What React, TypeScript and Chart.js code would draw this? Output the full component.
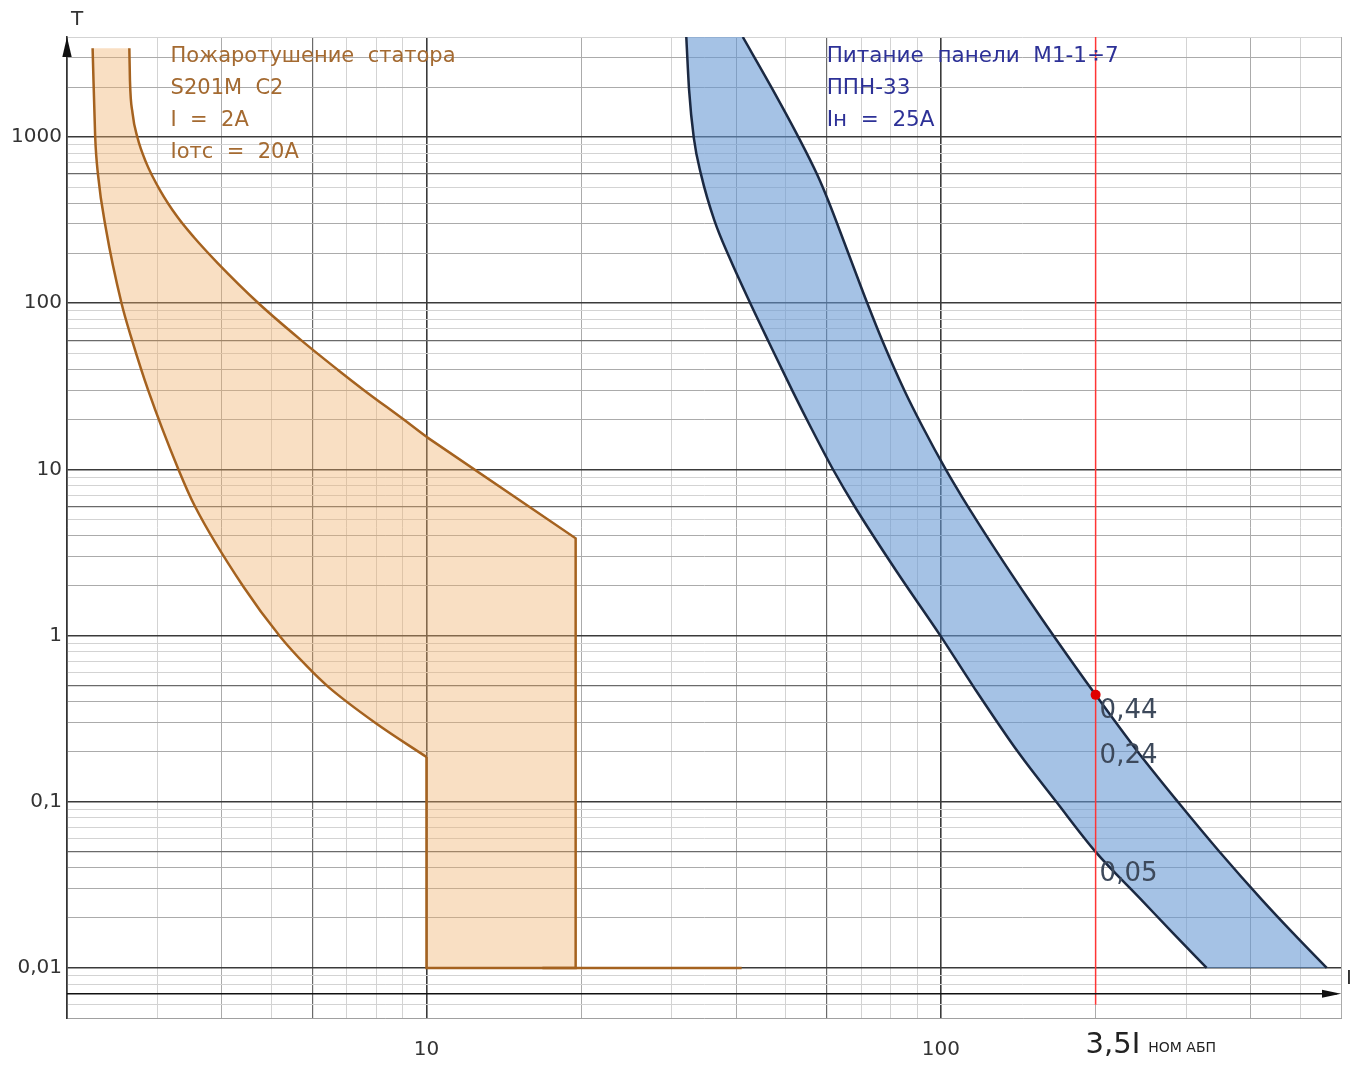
import React, { useEffect, useRef } from 'react';
import { Chart, registerables } from 'chart.js';

Chart.register(...registerables);

const W = 1358;
const H = 1066;
const FONT = '"DejaVu Sans", "Noto Sans", sans-serif';

// ---------- axes ----------
const xRange = [2, 600];
const yRange = [0.005, 4000];

const xTickValues = [2, 3, 4, 5, 6, 7, 8, 9, 10, 20, 30, 40, 50, 60, 70, 80, 90, 100, 200, 300, 400, 500, 600];
const yTickValues = [
  0.005, 0.006, 0.007, 0.008, 0.009,
  0.01, 0.02, 0.03, 0.04, 0.05, 0.06, 0.07, 0.08, 0.09,
  0.1, 0.2, 0.3, 0.4, 0.5, 0.6, 0.7, 0.8, 0.9,
  1, 2, 3, 4, 5, 6, 7, 8, 9,
  10, 20, 30, 40, 50, 60, 70, 80, 90,
  100, 200, 300, 400, 500, 600, 700, 800, 900,
  1000, 2000, 3000, 4000,
];
const xLabelValues = [10, 100];
const xLabelTexts = ['10', '100'];
const yLabelValues = [1000, 100, 10, 1, 0.1, 0.01];
const yLabelTexts = ['1000', '100', '10', '1', '0,1', '0,01'];
const yAccentLines = [600, 60, 6, 0.5, 0.05];
const xAccentLines = [6, 60];

// ---------- S201M C2 (orange) ----------
const orangeLeftI = [2.243, 2.269, 2.297, 2.383, 2.553, 2.676, 2.876, 3.294, 3.548, 4.40, 5.196, 5.866, 6.452, 7.959, 10];
const orangeLeftT = [3420, 1000, 599, 275.7, 100, 60, 30, 10, 5.98, 1.98, 0.985, 0.65, 0.49, 0.298, 0.186];
const orangeRightI = [2.644, 2.651, 2.682, 2.740, 2.853, 3.032, 3.28, 3.527, 3.926, 4.714, 5.703, 6.728, 7.558, 9.06, 10];
const orangeRightT = [3420, 2203, 1394, 1000, 697, 479.8, 330, 250.3, 174.5, 100, 60, 39.7, 30, 19.8, 15.7];
const orangeStepI = [10, 10, 19.5, 19.5, 10];
const orangeStepT = [0.186, 0.01, 0.01, 3.85, 15.7];
const orangeCutoffI = [16.8, 41];
const orangeCutoffT = [0.01, 0.01];

// ---------- ППН-33 (blue) ----------
const blueLeftI = [32.0, 32.4, 33.1, 34.2, 36.3, 38.86, 42.68, 46.29, 51.5, 55.97, 61.65, 68.3, 82.2, 99.8, 115.9, 141.7, 168.0, 200, 245.5, 282.8, 328.8];
const blueLeftT = [4000, 1931, 986, 592, 314, 187, 99.0, 58.5, 29.6, 17.75, 10.06, 5.86, 2.414, 1.0, 0.49, 0.197, 0.0993, 0.05, 0.0257, 0.0162, 0.01];
const blueRightI = [41.21, 46.71, 52.87, 57.55, 60.35, 66.02, 71.94, 77.09, 85.06, 92.22, 102.1, 110.0, 127.9, 148.4, 165.8, 200, 241.7, 289.5, 348.9, 421.2, 484.1, 562.9];
const blueRightT = [4000, 2027, 1000, 590.8, 417.8, 202.1, 100.3, 58.84, 29.63, 17.99, 10.06, 6.82, 3.27, 1.637, 0.995, 0.44, 0.1994, 0.0993, 0.0497, 0.0257, 0.0162, 0.01];

// ---------- markers ----------
const markerI = [200, 200];
const markerLineT = [4000, 0.006];
const markerDotI = [200];
const markerDotT = [0.44];
const valueLabelTexts = ['0,44', '0,24', '0,05'];
const valueLabelT = [0.352, 0.189, 0.0365];
const xArrowT = 0.007;

// ---------- text blocks ----------
const brownLines = ['Пожаротушение  статора', 'S201M  C2', 'I  =  2A', 'Iотс  =  20A'];
const blueLines = ['Питание  панели  М1-1÷7', 'ППН-33', 'Iн  =  25А'];
const brownAnchor = { i: 3.18, t: 3070 };
const blueAnchor = { i: 60, t: 3070 };

const ORANGE_STROKE = '#a5621f';
const ORANGE_FILL = 'rgba(240,176,106,0.4)';
const ORANGE_TEXT = '#a46a31';
const BLUE_STROKE = '#1b2942';
const BLUE_FILL = 'rgba(100,150,210,0.58)';
const BLUE_TEXT = '#2d3197';
const RED = '#ff3535';

const pts = (xs: number[], ys: number[]) => xs.map((x, i) => ({ x, y: ys[i] }));
const near = (a: number, b: number) => Math.abs(a / b - 1) < 1e-6;
const mant = (v: number) => {
  const e = Math.floor(Math.log10(v) + 1e-9);
  return Math.round(v / Math.pow(10, e));
};

type Style = { c: string; w: number };
const DARK: Style = { c: '#3a3a3a', w: 1.6 };
const ACCENT: Style = { c: '#6a6a6a', w: 1.2 };
const MED: Style = { c: '#ababab', w: 1 };
const LIGHT: Style = { c: '#d3d3d3', w: 1 };

function yStyle(v: number): Style {
  if (near(v, yRange[1]) || near(v, yRange[0])) return LIGHT;
  const m = mant(v);
  if (m === 1) return DARK;
  if (yAccentLines.some((a) => near(a, v))) return ACCENT;
  if (m === 2 || m === 3 || m === 4) return MED;
  return LIGHT;
}
function xStyle(v: number): Style {
  if (near(v, xRange[1])) return MED;
  const m = mant(v);
  if (m === 1) return DARK;
  if (xAccentLines.some((a) => near(a, v))) return ACCENT;
  if (m === 2 || m === 4) return MED;
  return LIGHT;
}

const IDX = { dot: 0, red: 1, bL: 2, bR: 3, oL: 4, oR: 5, oS: 6, oC: 7 };

const bandPlugin = {
  id: 'bands',
  beforeDatasetsDraw(chart: any) {
    const ctx = chart.ctx as CanvasRenderingContext2D;
    const area = chart.chartArea;
    const trace = (parts: { i: number; rev: boolean }[], color: string) => {
      ctx.save();
      ctx.beginPath();
      ctx.rect(area.left, area.top, area.right - area.left, area.bottom - area.top);
      ctx.clip();
      ctx.beginPath();
      let first = true;
      for (const part of parts) {
        const meta = chart.getDatasetMeta(part.i);
        if (meta.dataset && meta.dataset.updateControlPoints) meta.dataset.updateControlPoints(area, 'x');
        const curved = meta.dataset?.options?.cubicInterpolationMode === 'monotone' || (meta.dataset?.options?.tension || 0) > 0;
        const list = part.rev ? [...meta.data].reverse() : meta.data;
        list.forEach((p: any, k: number) => {
          if (k === 0) {
            if (first) ctx.moveTo(p.x, p.y);
            else ctx.lineTo(p.x, p.y);
            first = false;
            return;
          }
          const prev = list[k - 1];
          if (curved && prev.cp2x !== undefined && p.cp1x !== undefined) {
            if (!part.rev) ctx.bezierCurveTo(prev.cp2x, prev.cp2y, p.cp1x, p.cp1y, p.x, p.y);
            else ctx.bezierCurveTo(prev.cp1x, prev.cp1y, p.cp2x, p.cp2y, p.x, p.y);
          } else ctx.lineTo(p.x, p.y);
        });
      }
      ctx.closePath();
      ctx.fillStyle = color;
      ctx.fill();
      ctx.restore();
    };
    trace([{ i: IDX.oL, rev: false }, { i: IDX.oS, rev: false }, { i: IDX.oR, rev: true }], ORANGE_FILL);
    trace([{ i: IDX.bL, rev: false }, { i: IDX.bR, rev: true }], BLUE_FILL);
  },
  afterDatasetsDraw(chart: any) {
    const ctx = chart.ctx as CanvasRenderingContext2D;
    const xs = chart.scales.x;
    const ys = chart.scales.y;
    const px = (v: number) => xs.getPixelForValue(v);
    const py = (v: number) => ys.getPixelForValue(v);
    ctx.save();

    // text blocks
    ctx.textAlign = 'left';
    ctx.textBaseline = 'middle';
    ctx.font = `21px ${FONT}`;
    ctx.fillStyle = ORANGE_TEXT;
    brownLines.forEach((s, k) => ctx.fillText(s, px(brownAnchor.i), py(brownAnchor.t) + k * 32));
    ctx.font = `21.5px ${FONT}`;
    ctx.fillStyle = BLUE_TEXT;
    blueLines.forEach((s, k) => ctx.fillText(s, px(blueAnchor.i), py(blueAnchor.t) + k * 32));

    // value labels
    ctx.font = `26px ${FONT}`;
    ctx.fillStyle = '#3d495b';
    valueLabelTexts.forEach((s, k) => ctx.fillText(s, px(markerI[0]) + 4, py(valueLabelT[k])));

    // axes arrows
    const ax = px(xRange[0]);
    const top = py(yRange[1]);
    ctx.fillStyle = '#111';
    ctx.beginPath();
    ctx.moveTo(ax, top);
    ctx.lineTo(ax - 4.7, top + 20);
    ctx.lineTo(ax + 4.7, top + 20);
    ctx.closePath();
    ctx.fill();

    const ay = py(xArrowT);
    const ar = px(xRange[1]);
    ctx.strokeStyle = '#111';
    ctx.lineWidth = 1.5;
    ctx.beginPath();
    ctx.moveTo(ax, ay);
    ctx.lineTo(ar - 4, ay);
    ctx.stroke();
    ctx.beginPath();
    ctx.moveTo(ar, ay);
    ctx.lineTo(ar - 19, ay - 4);
    ctx.lineTo(ar - 19, ay + 4);
    ctx.closePath();
    ctx.fill();

    // axis names
    ctx.fillStyle = '#333';
    ctx.font = `20px ${FONT}`;
    ctx.textAlign = 'center';
    ctx.fillText('T', ax + 10, top - 17);
    ctx.fillText('I', ar + 8, py(0.01) + 11);

    // 3,5 I nom label
    ctx.textAlign = 'left';
    ctx.textBaseline = 'alphabetic';
    const bx = px(markerI[0]) - 10;
    const by = chart.chartArea.bottom + 35;
    ctx.font = `29px ${FONT}`;
    ctx.fillStyle = '#222';
    const main = '3,5I';
    ctx.fillText(main, bx, by);
    const mw = ctx.measureText(main).width;
    ctx.font = `14px ${FONT}`;
    ctx.fillText('НОМ АБП', bx + mw + 8, by - 1);
    ctx.restore();
  },
};

export default function App() {
  const ref = useRef<HTMLCanvasElement>(null);
  useEffect(() => {
    const canvas = ref.current;
    if (!canvas) return;
    const line = (data: any[], color: string, width: number, smooth: boolean) => ({
      data,
      showLine: true,
      borderColor: color,
      borderWidth: width,
      pointRadius: 0,
      tension: 0,
      cubicInterpolationMode: smooth ? 'monotone' : 'default',
      fill: false,
    });
    const chart = new Chart(canvas, {
      type: 'scatter',
      data: {
        datasets: [
          {
            data: pts(markerDotI, markerDotT),
            showLine: false,
            pointRadius: 5,
            pointBackgroundColor: '#e00000',
            pointBorderWidth: 0,
          } as any,
          line(pts(markerI, markerLineT), RED, 1.5, false),
          line(pts(blueLeftI, blueLeftT), BLUE_STROKE, 2.5, true),
          line(pts(blueRightI, blueRightT), BLUE_STROKE, 2.5, true),
          line(pts(orangeLeftI, orangeLeftT), ORANGE_STROKE, 2.5, true),
          line(pts(orangeRightI, orangeRightT), ORANGE_STROKE, 2.5, true),
          line(pts(orangeStepI, orangeStepT), ORANGE_STROKE, 2.5, false),
          line(pts(orangeCutoffI, orangeCutoffT), ORANGE_STROKE, 2.5, false),
        ],
      },
      options: {
        responsive: false,
        animation: false,
        devicePixelRatio: 1,
        events: [],
        layout: { padding: { top: 37, right: 17, left: 0, bottom: 0 } },
        plugins: { legend: { display: false }, tooltip: { enabled: false } },
        scales: {
          x: {
            type: 'logarithmic',
            min: xRange[0],
            max: xRange[1],
            afterFit: (s: any) => {
              s.height = 48;
              s.paddingLeft = 0;
              s.paddingRight = 0;
            },
            afterBuildTicks: (s: any) => { s.ticks = xTickValues.map((value) => ({ value })); },
            grid: {
              drawTicks: false,
              color: (c: any) => xStyle(c.tick.value).c,
              lineWidth: (c: any) => xStyle(c.tick.value).w,
            },
            border: { display: true, color: '#a0a0a0', width: 1 },
            ticks: {
              autoSkip: false,
              maxRotation: 0,
              minRotation: 0,
              padding: 20,
              color: '#333',
              font: { family: FONT, size: 20 },
              callback: (v: any) => {
                const k = xLabelValues.findIndex((a) => near(a, Number(v)));
                return k >= 0 ? xLabelTexts[k] : '';
              },
            },
          },
          y: {
            type: 'logarithmic',
            min: yRange[0],
            max: yRange[1],
            afterFit: (s: any) => {
              s.width = 67;
              s.paddingTop = 0;
              s.paddingBottom = 0;
            },
            afterBuildTicks: (s: any) => { s.ticks = yTickValues.map((value) => ({ value })); },
            grid: {
              drawTicks: false,
              color: (c: any) => yStyle(c.tick.value).c,
              lineWidth: (c: any) => yStyle(c.tick.value).w,
            },
            border: { display: true, color: '#333', width: 1.6 },
            ticks: {
              autoSkip: false,
              padding: 5,
              color: '#333',
              font: { family: FONT, size: 20 },
              callback: (v: any) => {
                const k = yLabelValues.findIndex((a) => near(a, Number(v)));
                return k >= 0 ? yLabelTexts[k] : '';
              },
            },
          },
        },
      } as any,
      plugins: [bandPlugin],
    });
    return () => chart.destroy();
  }, []);
  return (
    <div style={{ position: 'absolute', left: 0, top: 0, width: W, height: H, background: '#fff' }}>
      <canvas ref={ref} width={W} height={H} style={{ display: 'block', width: W, height: H }} />
    </div>
  );
}
